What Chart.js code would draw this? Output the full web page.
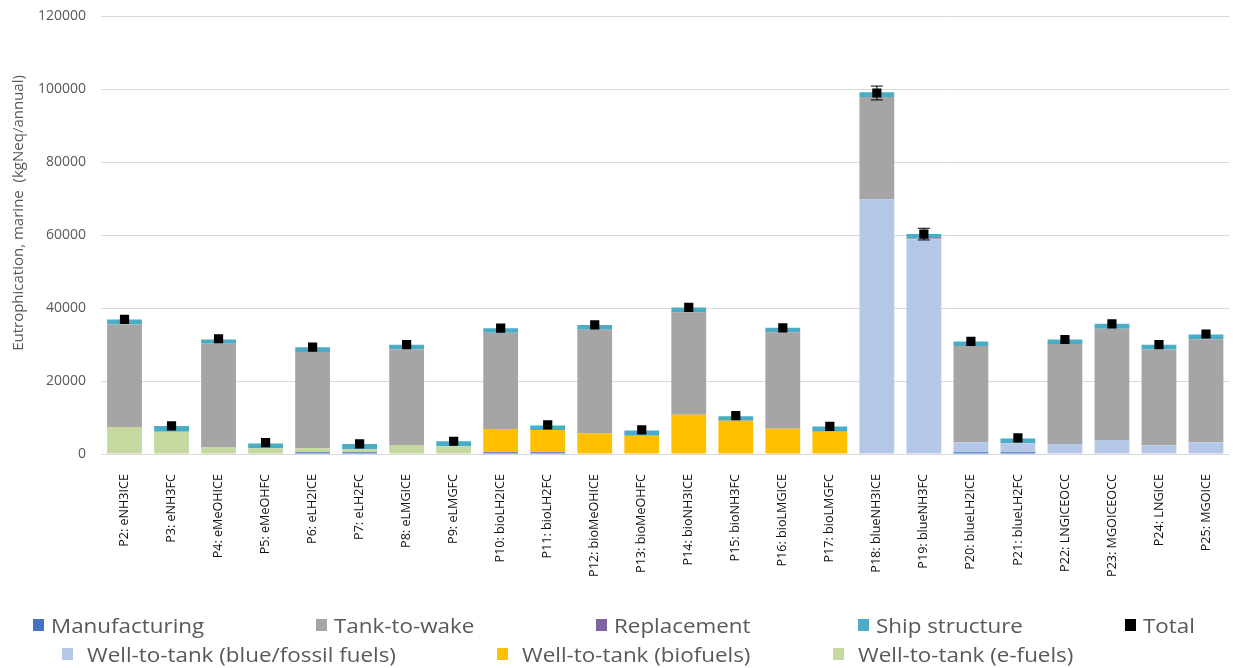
<!DOCTYPE html>
<html>
<head>
<meta charset="utf-8">
<title>Eutrophication, marine</title>
<script src="https://cdn.jsdelivr.net/npm/chart.js@4.4.1/dist/chart.umd.min.js"></script>
<style>
  html, body { margin: 0; padding: 0; background: #fff; overflow: hidden; }
  #wrap { position: relative; width: 1236px; height: 668px; overflow: hidden; }
  #chart { position: absolute; left: 0; top: -7px; }
  #legend { position: absolute; left: 0; top: 0; width: 1233px; height: 668px; pointer-events: none;
            font-family: "Open Sans", sans-serif; font-size: 20px; color: #595959; }
  .item { position: absolute; display: flex; align-items: center; white-space: nowrap; height: 28px; }
  .box { display: inline-block; width: 11px; height: 12px; }
  .txt { display: inline-block; transform: scaleX(1.12); transform-origin: left center; }
</style>
</head>
<body>
<div id="wrap">
  <canvas id="chart" width="1236" height="675"></canvas>
  <div id="legend"></div>
</div>
<script>
const categories = [
  'P2: eNH3ICE', 'P3: eNH3FC', 'P4: eMeOHICE', 'P5: eMeOHFC', 'P6: eLH2ICE', 'P7: eLH2FC',
  'P8: eLMGICE', 'P9: eLMGFC', 'P10: bioLH2ICE', 'P11: bioLH2FC', 'P12: bioMeOHICE', 'P13: bioMeOHFC',
  'P14: bioNH3ICE', 'P15: bioNH3FC', 'P16: bioLMGICE', 'P17: bioLMGFC', 'P18: blueNH3ICE', 'P19: blueNH3FC',
  'P20: blueLH2ICE', 'P21: blueLH2FC', 'P22: LNGICEOCC', 'P23: MGOICEOCC', 'P24: LNGICE', 'P25: MGOICE'
];

const manufacturing = [0, 0, 0, 0, 500, 500, 0, 0, 500, 500, 0, 0, 0, 0, 0, 0, 0, 0, 450, 450, 0, 0, 0, 0];
const wttFossil   = [0, 0, 0, 0, 0, 0, 0, 0, 0, 0, 0, 0, 0, 0, 0, 0, 69850, 58900, 2740, 2470, 2730, 3820, 2370, 3190];
const wttBio      = [0, 0, 0, 0, 0, 0, 0, 0, 6330, 6050, 5640, 5010, 10740, 9100, 6920, 6100, 0, 0, 0, 0, 0, 0, 0, 0];
const wttE        = [7400, 6100, 1800, 1600, 1050, 800, 2460, 2100, 0, 0, 0, 0, 0, 0, 0, 0, 0, 0, 0, 0, 0, 0, 0, 0];
const tankToWake  = [28100, 0, 28400, 0, 26400, 0, 26240, 0, 26400, 0, 28410, 0, 28140, 0, 26500, 0, 28050, 300, 26400, 0, 27410, 30510, 26320, 28310];
const replacement = [0, 0, 0, 0, 0, 0, 0, 0, 0, 0, 0, 0, 0, 0, 0, 0, 0, 0, 0, 0, 0, 0, 0, 0];
const shipStructure = [1400, 1550, 1200, 1300, 1350, 1450, 1250, 1370, 1250, 1280, 1350, 1450, 1280, 1280, 1180, 1460, 1270, 1100, 1280, 1360, 1280, 1370, 1260, 1280];
const totals      = [36900, 7700, 31600, 3100, 29300, 2800, 30000, 3500, 34500, 8000, 35400, 6600, 40200, 10500, 34600, 7600, 99000, 60300, 30900, 4400, 31400, 35700, 30000, 32900];
const totalError  = [0, 0, 0, 0, 0, 0, 0, 0, 0, 0, 0, 0, 0, 0, 0, 0, 1900, 1600, 0, 0, 0, 0, 0, 0];

const yTicks = { min: 0, max: 120000, step: 20000 };
const yTitle = 'Eutrophication, marine  (kgNeq/annual)';

function bar(label, data, color) {
  return { type: 'bar', label, data, backgroundColor: color, stack: 'parts', order: 1,
           barPercentage: 0.74, categoryPercentage: 1.0 };
}

// whiskers on the Total markers
const errorBars = {
  id: 'errorBars',
  afterDatasetsDraw(chart) {
    const idx = chart.data.datasets.findIndex(d => d.label === 'Total');
    const meta = chart.getDatasetMeta(idx);
    const y = chart.scales.y;
    const ctx = chart.ctx;
    ctx.save();
    ctx.strokeStyle = '#000';
    ctx.lineWidth = 1;
    meta.data.forEach((pt, i) => {
      const err = totalError[i];
      if (!err) return;
      const yHi = y.getPixelForValue(totals[i] + err);
      const yLo = y.getPixelForValue(totals[i] - err);
      ctx.beginPath();
      ctx.moveTo(pt.x, yHi); ctx.lineTo(pt.x, yLo);
      ctx.moveTo(pt.x - 6, yHi); ctx.lineTo(pt.x + 6, yHi);
      ctx.moveTo(pt.x - 6, yLo); ctx.lineTo(pt.x + 6, yLo);
      ctx.stroke();
    });
    ctx.restore();
  }
};

// value-axis title, placed a little above the plot's middle
const axisTitle = {
  id: 'axisTitle',
  afterDraw(chart) {
    const ctx = chart.ctx;
    ctx.save();
    ctx.translate(19, 220);
    ctx.rotate(-Math.PI / 2);
    ctx.font = '15px "Open Sans"';
    ctx.fillStyle = '#595959';
    ctx.textAlign = 'center';
    ctx.textBaseline = 'middle';
    ctx.fillText(yTitle, 0, 0);
    ctx.restore();
  }
};

const chart = new Chart(document.getElementById('chart'), {
  data: {
    labels: categories,
    datasets: [
      bar('Manufacturing', manufacturing, '#4472C4'),
      bar('Well-to-tank (blue/fossil fuels)', wttFossil, '#B4C7E7'),
      bar('Well-to-tank (biofuels)', wttBio, '#FFC000'),
      bar('Well-to-tank (e-fuels)', wttE, '#C5D89F'),
      bar('Tank-to-wake', tankToWake, '#A5A5A5'),
      bar('Replacement', replacement, '#8064A2'),
      bar('Ship structure', shipStructure, '#4BACC6'),
      { type: 'line', label: 'Total', data: totals, stack: 'total', order: 0, showLine: false,
        pointStyle: 'rect', pointRadius: 6.5, pointHoverRadius: 6.5,
        backgroundColor: '#000', borderColor: '#000', borderWidth: 0 }
    ]
  },
  options: {
    responsive: false,
    animation: false,
    plugins: { legend: { display: false }, tooltip: { enabled: false } },
    scales: {
      x: {
        stacked: true,
        offset: true,
        grid: { display: false },
        border: { display: false },
        ticks: {
          minRotation: 90, maxRotation: 90, autoSkip: false, padding: 12,
          color: '#111', font: { family: 'Open Sans', size: 12.6 }
        },
        afterFit(scale) { scale.height = 214; }
      },
      y: {
        stacked: true,
        min: yTicks.min, max: yTicks.max,
        grid: { color: '#d9d9d9', lineWidth: 1, drawTicks: false },
        border: { display: false },
        ticks: {
          stepSize: yTicks.step, padding: 15, color: '#595959',
          font: { family: 'Open Sans', size: 14 },
          callback: v => String(v)
        },
        afterFit(scale) { scale.width = 101; }
      }
    }
  },
  plugins: [errorBars, axisTitle]
});

// two-row legend below the axis labels
const legendSlots = [
  ['Manufacturing', 33, 611, 7], ['Tank-to-wake', 316, 611, 7], ['Replacement', 596, 611, 7],
  ['Ship structure', 858, 611, 7], ['Total', 1125, 611, 7],
  ['Well-to-tank (blue/fossil fuels)', 62, 640, 14], ['Well-to-tank (biofuels)', 497, 640, 14],
  ['Well-to-tank (e-fuels)', 833, 640, 14]
];
const legendEl = document.getElementById('legend');
legendSlots.forEach(([label, left, top, gap]) => {
  const ds = chart.data.datasets.find(d => d.label === label);
  const item = document.createElement('div');
  item.className = 'item';
  item.style.left = left + 'px';
  item.style.top = top + 'px';
  const box = document.createElement('span');
  box.className = 'box';
  box.style.background = ds.backgroundColor;
  box.style.marginRight = gap + 'px';
  const txt = document.createElement('span');
  txt.className = 'txt';
  txt.textContent = label;
  item.appendChild(box);
  item.appendChild(txt);
  legendEl.appendChild(item);
});
</script>
</body>
</html>
